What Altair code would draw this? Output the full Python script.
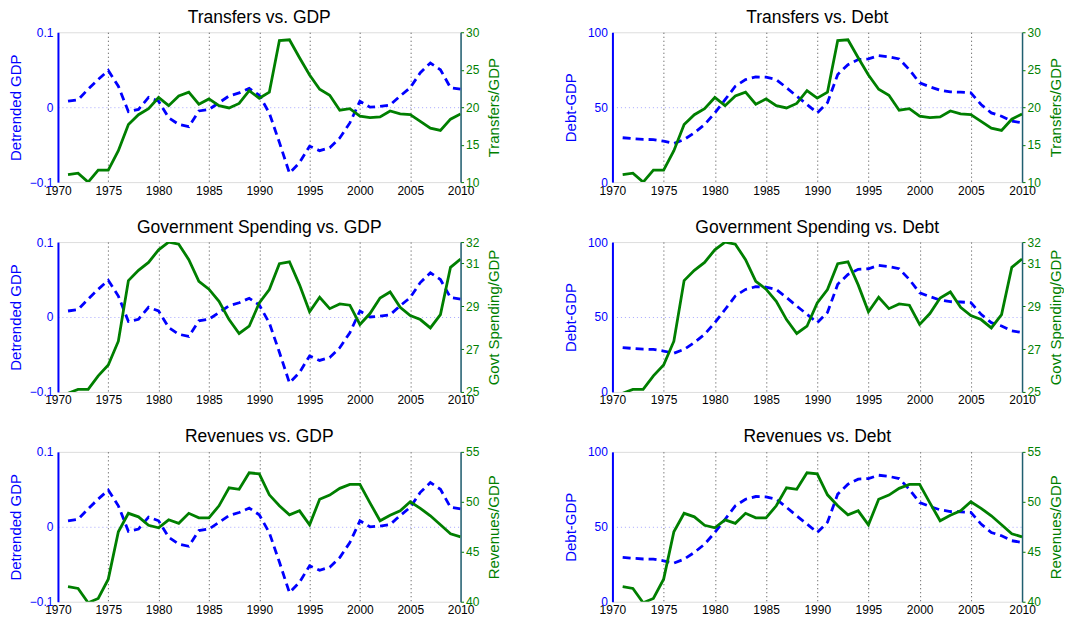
import altair as alt
import pandas as pd

years = list(range(1971, 2011))

detrended_gdp = [0.008, 0.010, 0.024, 0.037, 0.049, 0.028, -0.006, -0.003, 0.013, 0.008,
                 -0.014, -0.023, -0.026, -0.005, -0.003, 0.006, 0.015, 0.019, 0.025, 0.016,
                 -0.008, -0.047, -0.088, -0.074, -0.052, -0.058, -0.054, -0.041, -0.021, 0.008,
                 0.000, 0.001, 0.003, 0.015, 0.026, 0.046, 0.059, 0.050, 0.026, 0.024]

debt_gdp = [29.6, 29.0, 28.5, 28.4, 27.3, 25.8, 28.4, 32.9, 38.4, 46.2,
            55.0, 64.0, 68.4, 70.2, 70.0, 68.4, 63.0, 57.3, 51.8, 46.2,
            53.0, 71.8, 78.4, 81.8, 82.2, 84.4, 83.6, 82.2, 75.0, 66.2,
            63.6, 61.3, 60.2, 60.0, 59.6, 51.8, 46.2, 44.0, 40.7, 39.6]

transfers_gdp = [11.0, 11.2, 10.0, 11.6, 11.6, 14.2, 17.7, 19.0, 19.8, 21.3,
                 20.2, 21.5, 22.0, 20.4, 21.1, 20.2, 19.9, 20.5, 22.2, 21.2,
                 22.0, 28.9, 29.0, 26.6, 24.3, 22.4, 21.6, 19.6, 19.8, 18.8,
                 18.6, 18.7, 19.5, 19.1, 19.0, 18.1, 17.2, 16.9, 18.4, 19.1]

spending_gdp = [24.94, 25.12, 25.12, 25.75, 26.26, 27.37, 30.2, 30.68, 31.05, 31.64,
                32.0, 31.9, 31.18, 30.17, 29.8, 29.23, 28.38, 27.73, 28.07, 29.16,
                29.78, 30.99, 31.08, 30.0, 28.74, 29.42, 28.89, 29.11, 29.05, 28.15,
                28.66, 29.39, 29.67, 28.95, 28.57, 28.38, 27.99, 28.61, 30.82, 31.21]

revenues_gdp = [41.5, 41.33, 39.9, 40.33, 42.26, 47.0, 48.85, 48.5, 47.65, 47.4,
                48.2, 47.85, 48.85, 48.4, 48.4, 49.6, 51.4, 51.25, 52.9, 52.8,
                50.7, 49.6, 48.7, 49.1, 47.7, 50.25, 50.67, 51.35, 51.75, 51.75,
                49.9, 48.1, 48.65, 49.1, 50.0, 49.35, 48.6, 47.7, 46.8, 46.5]

year_ticks = list(range(1970, 2011, 5))

df = pd.DataFrame({
    "year": years,
    "gdp": detrended_gdp,
    "debt": debt_gdp,
    "transfers": transfers_gdp,
    "spending": spending_gdp,
    "revenues": revenues_gdp,
})

BLUE = "#0000ff"
GREEN = "#007f00"
FONT = "Liberation Sans"


def panel(title, lfield, ltitle, ldomain, lvalues, lformat, rfield, rtitle, rdomain, rvalues, width):
    mid = lvalues[1]
    x = alt.X("year:Q",
              scale=alt.Scale(domain=[1970, 2010], nice=False, zero=False),
              axis=alt.Axis(values=year_ticks, format="d", title=None,
                            grid=True, gridColor="#444444", gridDash=[1, 3], gridWidth=1,
                            gridOpacity={"condition": {"test": "datum.value > 1970 && datum.value < 2010",
                                                       "value": 1}, "value": 0},
                            ticks=False, domain=False, labelColor="black",
                            labelFontSize=12, labelPadding=3, labelFont=FONT,
                            labelFlush=False))
    left = alt.Chart(df).mark_line(color=BLUE, strokeDash=[8, 5], strokeWidth=2.8, clip=True).encode(
        x=x,
        y=alt.Y(f"{lfield}:Q",
                scale=alt.Scale(domain=ldomain, nice=False, zero=False),
                axis=alt.Axis(orient="left", values=lvalues, format=lformat, title=ltitle,
                              titleColor=BLUE, labelColor=BLUE, domainColor=BLUE, domainWidth=2,
                              grid=True, gridColor="#a8a8ff", gridDash=[1, 3], gridWidth=1,
                              gridOpacity={"condition": {"test": f"datum.value == {mid}", "value": 1},
                                           "value": 0},
                              ticks=False, labelPadding=5, labelFontSize=12, labelFont=FONT,
                              titleFont=FONT, titleFontSize=15, titleFontWeight="normal",
                              titlePadding=6, minExtent=28, maxExtent=28, labelFlush=False)),
    )
    right = alt.Chart(df).mark_line(color=GREEN, strokeWidth=2.8, clip=True).encode(
        x=x,
        y=alt.Y(f"{rfield}:Q",
                scale=alt.Scale(domain=rdomain, nice=False, zero=False),
                axis=alt.Axis(orient="right", values=rvalues, format="d", title=rtitle,
                              titleColor=GREEN, labelColor=GREEN, domainColor="#205f70",
                              domainWidth=1.5, grid=False, ticks=True, tickSize=3,
                              tickColor=GREEN, labelPadding=2, labelFontSize=12,
                              labelFont=FONT, titleFont=FONT, titleFontSize=15,
                              titleFontWeight="normal", titleAngle=270, titleBaseline="top",
                              titlePadding=6, minExtent=20, maxExtent=20, labelFlush=False)),
    )
    return alt.layer(left, right).resolve_scale(y="independent").properties(
        width=width, height=150,
        title=alt.TitleParams(title, fontSize=17.5, fontWeight="normal", font=FONT,
                              color="black", offset=0),
    )


specs = [
    ("Transfers vs. GDP", "transfers", "Transfers/GDP", [10, 30], [10, 15, 20, 25, 30]),
    ("Government Spending vs. GDP", "spending", "Govt Spending/GDP", [25, 32], [25, 27, 29, 31, 32]),
    ("Revenues vs. GDP", "revenues", "Revenues/GDP", [40, 55], [40, 45, 50, 55]),
]

rows = []
for t, rf, rt, rd, rv in specs:
    p1 = panel(t, "gdp", "Detrended GDP", [-0.1, 0.1], [-0.1, 0, 0.1], ".1~f", rf, rt, rd, rv, 403)
    p2 = panel(t.replace("GDP", "Debt"), "debt", "Debt-GDP", [0, 100], [0, 50, 100], "d", rf, rt, rd, rv, 410)
    rows.append(alt.hconcat(p1, p2, spacing=60))

chart = alt.vconcat(*rows, spacing=21).properties(
    padding={"left": 0, "top": 0, "right": 0, "bottom": 0}
).configure_view(stroke="black", strokeWidth=1).configure(background="white")

chart.save("out.html", embed_options={"renderer": "svg", "actions": False})
